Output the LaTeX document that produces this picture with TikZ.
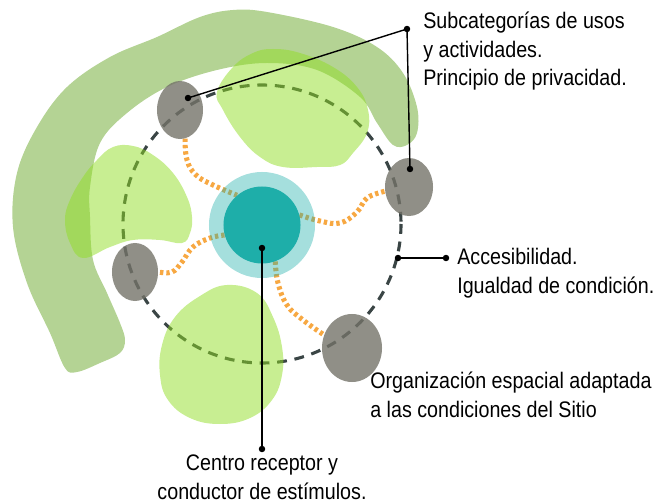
\documentclass[tikz,border=0pt]{standalone}
\usepackage{fontspec}
\setmainfont{Liberation Sans}[FakeStretch=0.875]
\usepackage{xcolor}
\usepackage{tikz}
\usetikzlibrary{shapes.geometric,calc}

\definecolor{bandgreen}{RGB}{130,182,77}
\definecolor{blobgreen}{RGB}{145,221,37}
\definecolor{ringgray}{RGB}{58,69,69}
\definecolor{nodegray}{RGB}{116,115,105}
\definecolor{wavecol}{RGB}{247,168,66}
\definecolor{tealc}{RGB}{30,174,169}

\pgfdeclarelayer{bg}
\pgfdeclarelayer{mid}
\pgfsetlayers{bg,mid,main}

\begin{document}
\begin{tikzpicture}[x=0.025cm,y=-0.025cm,
    band/.style={fill=bandgreen,fill opacity=0.6},
    blob/.style={fill=blobgreen,fill opacity=0.5},
    ring/.style={draw=ringgray,line width=2.2pt,dash pattern=on 7pt off 5.5pt},
    wave/.style={draw=wavecol,line width=3.6pt,dash pattern=on 2.4pt off 2.1pt},
    usonode/.style={ellipse,fill=nodegray,fill opacity=0.8,inner sep=0pt},
    lead/.style={draw=black,line width=1pt},
    lbl/.style={inner sep=0pt,align=left,font=\fontsize{16pt}{20.3pt}\selectfont}]
    \useasboundingbox (0,0) rectangle (663,504);

    \begin{pgfonlayer}{bg}
    % Site boundary
    \draw[ring] (262,224) circle (139);

    % Green band
    \fill[band] plot[smooth cycle,tension=0.6] coordinates {
        (65,368) (50,333) (27,283) (13,227) (17,173) (37,127) (67,87) (110,57)
        (157,37) (200,17) (233,10) (267,12) (333,27) (377,47) (403,73) (417,107)
        (417,133) (407,145) (393,145) (377,123) (360,97) (317,70) (267,63) (217,70)
        (167,87) (127,113) (100,143) (90,187) (90,217) (93,260) (107,293) (120,323)
        (125,340) (120,353) (100,363) (77,372)};

    % Green blobs
    \fill[blob] plot[smooth cycle,tension=0.7] coordinates {
        (217,92) (233,67) (253,53) (273,49) (300,53) (333,67) (357,87) (368,110)
        (367,133) (353,153) (340,165) (317,167) (283,167) (260,157) (240,137) (223,110)};
    \fill[blob] plot[smooth cycle,tension=0.7] coordinates {
        (133,146) (153,155) (173,173) (187,197) (192,217) (190,233) (182,243)
        (160,240) (133,240) (110,247) (83,258) (70,243) (65,220) (70,200)
        (83,177) (97,160) (113,147)};
    \fill[blob] plot[smooth cycle,tension=0.7] coordinates {
        (227,285) (257,293) (273,317) (282,347) (282,375) (272,400) (250,418)
        (220,424) (190,418) (168,400) (160,375) (162,345) (175,317) (200,296)};
    \end{pgfonlayer}

    % Centre
    \node[circle,fill=tealc,fill opacity=0.4,minimum size=2.65cm,inner sep=0pt] (halo) at (262,225) {};
    \node[circle,fill=tealc,minimum size=1.925cm,inner sep=0pt] (core) at (262,225) {};

    % Uses
    \node[usonode,minimum width=1.15cm,minimum height=1.45cm] (usoA) at (180,110) {};
    \node[usonode,minimum width=1.2cm,minimum height=1.45cm] (usoB) at (409,187) {};
    \node[usonode,minimum width=1.15cm,minimum height=1.45cm] (usoC) at (135,272) {};
    \node[usonode,minimum width=1.5cm,minimum height=1.7cm] (usoD) at (352,348) {};

    % Stimulus paths
    \begin{pgfonlayer}{mid}
    \draw[wave] plot[smooth,tension=0.7] coordinates {(usoA.-80) (187,160) (196,175) (213,185) (core.130)};
    \draw[wave] plot[smooth,tension=0.7] coordinates {(core.15) (320,221) (340,223) (357,212) (367,198) (usoB.190)};
    \draw[wave] plot[smooth,tension=0.7] coordinates {(core.195) (210,238) (193,247) (182,262) (172,272) (usoC.east)};
    \draw[wave] plot[smooth,tension=0.7] coordinates {(core.-70) (278,283) (287,305) (303,320) (usoD.155)};
    \end{pgfonlayer}

    % Leaders
    \coordinate (jUsos) at (407,29);
    \coordinate (dUsoA) at (188,98);
    \coordinate (dUsoB) at (410,169);
    \coordinate (dAcc) at (398,258);
    \coordinate (jAcc) at (446,258);
    \coordinate (cdot) at (262,248);
    \coordinate (cend) at (262,449);
    \draw[lead] (dUsoA) -- (jUsos) -- (dUsoB);
    \draw[lead] (dAcc) -- (jAcc);
    \draw[lead] (cdot) -- (cend);
    \foreach \d in {jUsos,dUsoA,dUsoB,dAcc,jAcc,cdot,cend}
        \fill[black] (\d) circle (2.3pt);

    % Labels
    \node[lbl,anchor=base west] (lblUsos) at (423,86) {Subcategorías de usos\\y actividades.\\Principio de privacidad.};
    \node[lbl,anchor=base west] (lblAcc) at (457,293) {Accesibilidad.\\Igualdad de condición.};
    \node[lbl,anchor=base west] (lblSitio) at (370,417) {Organización espacial adaptada\\a las condiciones del Sitio};
    \node[lbl,align=center,anchor=base] (lblCentro) at (262,499) {Centro receptor y\\conductor de estímulos.};
\end{tikzpicture}
\end{document}
